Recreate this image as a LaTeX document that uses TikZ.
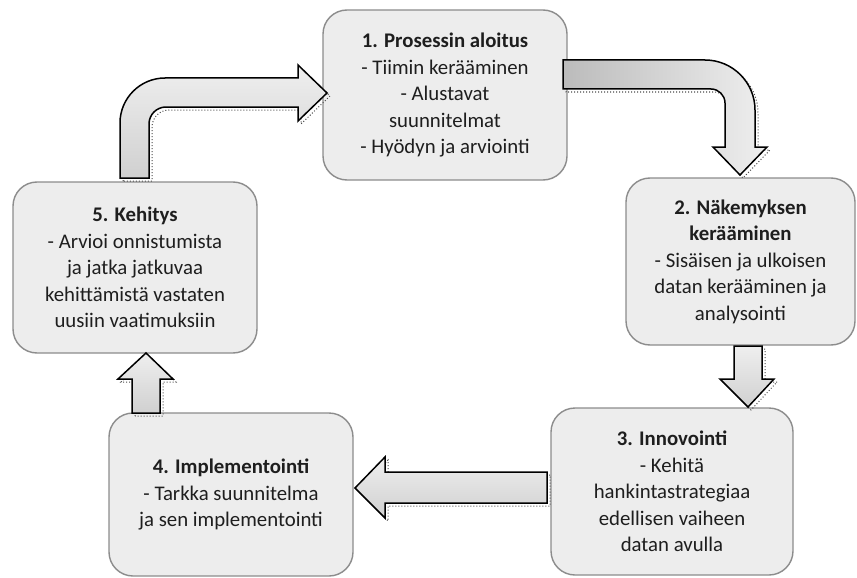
\documentclass[tikz,border=0pt]{standalone}
\usepackage{fontspec}
\setmainfont{Carlito}
\begin{document}
\begin{tikzpicture}[x=1pt,y=-1pt,
  stage/.style={draw=boxline, line width=1.4pt, fill=boxfill, rounded corners=24pt,
    align=center, inner sep=0pt, text=txt,
    font=\fontsize{20.8pt}{26.5pt}\selectfont},
  blockarrow/.style={draw=black, line width=1.5pt, line join=miter},
  shadowline/.style={draw=black!70, line width=1pt, dotted},
]
\definecolor{boxfill}{HTML}{EDEDED}
\definecolor{boxline}{HTML}{8C8C8C}
\definecolor{txt}{HTML}{1E1E1E}
\definecolor{lightg}{HTML}{EFEFEF}
\definecolor{darkg}{HTML}{D0D0D0}
\useasboundingbox (0,0) rectangle (857,578);

% boxes
\node[stage, minimum width=244pt, minimum height=170pt] (b1) at (445,95)
  {\textbf{1. Prosessin aloitus}\\- Tiimin kerääminen\\- Alustavat\\suunnitelmat\\- Hyödyn ja arviointi};
\node[stage, minimum width=229pt, minimum height=167pt] (b2) at (740.5,261.5)
  {\textbf{2. Näkemyksen}\\\textbf{kerääminen}\\- Sisäisen ja ulkoisen\\datan kerääminen ja\\analysointi};
\node[stage, minimum width=242pt, minimum height=167pt] (b3) at (672,491.5)
  {\textbf{3. Innovointi}\\- Kehitä\\hankintastrategiaa\\edellisen vaiheen\\datan avulla};
\node[stage, minimum width=244pt, minimum height=163pt] (b4) at (231,494.5)
  {\textbf{4. Implementointi}\\- Tarkka suunnitelma\\ja sen implementointi};
\node[stage, minimum width=244pt, minimum height=171pt] (b5) at (135,267.5)
  {\textbf{5. Kehitys}\\- Arvioi onnistumista\\ja jatka jatkuvaa\\kehittämistä vastaten\\uusiin vaatimuksiin};

% arrow 5 -> 1
\def\arrowA{(120,178) -- (120,123) .. controls (120,98.2) and (140.2,78) .. (165,78) -- (298,78) -- (298,65) -- (327,93) -- (298,121) -- (298,107) -- (166,107) .. controls (156.6,107) and (149,114.6) .. (149,124) -- (149,178) -- cycle}
\path[shadowline, shift={(3,3)}] \arrowA;
\path[blockarrow, top color=lightg, bottom color=darkg] \arrowA;

% arrow 1 -> 2
\def\arrowB{(563,60) -- (705,60) .. controls (732.6,60) and (755,82.4) .. (755,110) -- (755,147) -- (767,147) -- (740,175) -- (713,147) -- (725,147) -- (725,103) .. controls (725,95.3) and (718.7,89) .. (711,89) -- (563,89) -- cycle}
\path[shadowline, shift={(3,3)}] \arrowB;
\path[blockarrow, left color=darkg!90!black, right color=lightg] \arrowB;

% arrow 2 -> 3
\def\arrowC{(734,346) -- (762,346) -- (762,379) -- (774,379) -- (748,407) -- (720,379) -- (734,379) -- cycle}
\path[shadowline, shift={(3,3)}] \arrowC;
\path[blockarrow, top color=lightg, bottom color=darkg] \arrowC;

% arrow 3 -> 4
\def\arrowD{(547,472) -- (385,472) -- (385,457) -- (355,488) -- (385,518) -- (385,503) -- (547,503) -- cycle}
\path[shadowline, shift={(3,3)}] \arrowD;
\path[blockarrow, top color=lightg, bottom color=darkg] \arrowD;

% arrow 4 -> 5
\def\arrowE{(132,413) -- (132,379) -- (118,379) -- (146,353) -- (173,379) -- (160,379) -- (160,413) -- cycle}
\path[shadowline, shift={(3,3)}] \arrowE;
\path[blockarrow, top color=lightg, bottom color=darkg] \arrowE;
\end{tikzpicture}
\end{document}
